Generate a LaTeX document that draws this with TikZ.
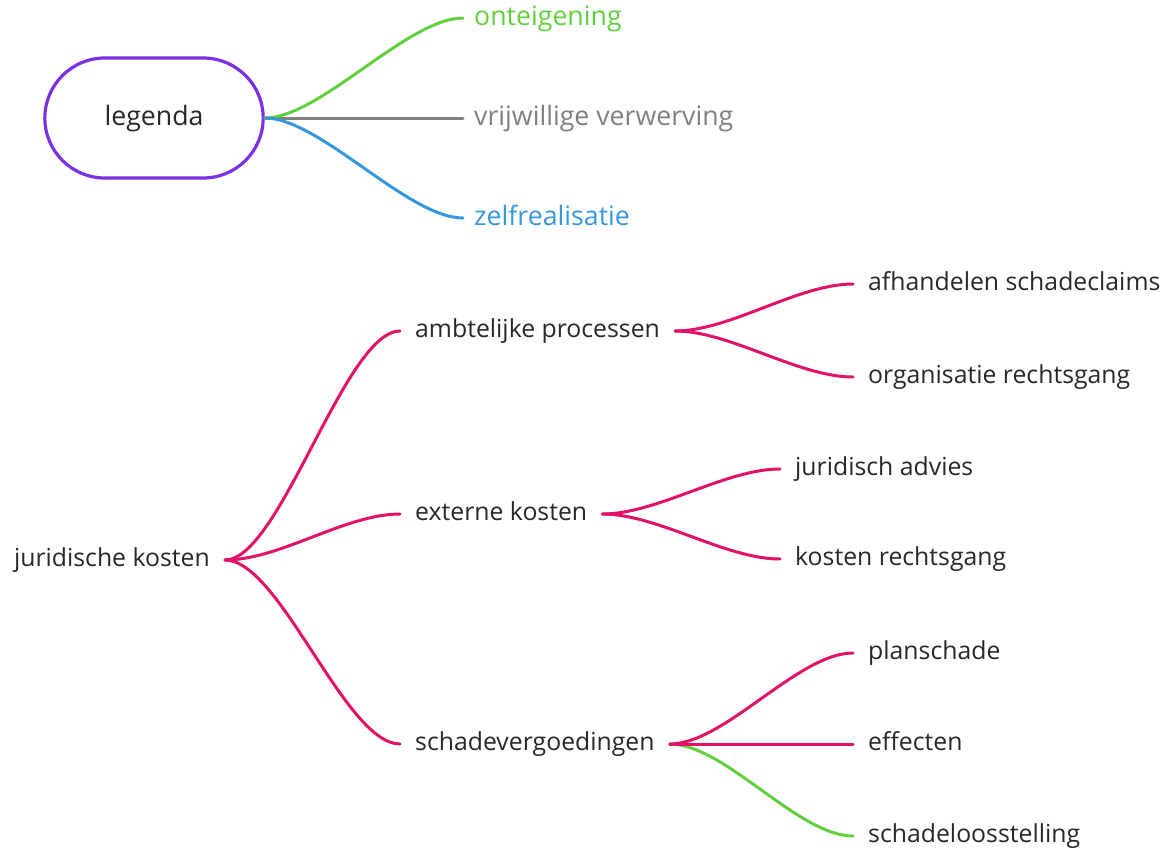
\documentclass[tikz,border=0pt]{standalone}
\usepackage{fontspec}
\setmainfont{Open Sans}
\usetikzlibrary{shapes.misc}
\definecolor{txt}{RGB}{40,40,40}
\definecolor{mpink}{RGB}{226,18,104}
\definecolor{mgreen}{RGB}{98,208,62}
\definecolor{mgray}{RGB}{128,128,128}
\definecolor{mblue}{RGB}{54,152,220}
\definecolor{mpurple}{RGB}{123,48,226}
\begin{document}
\begin{tikzpicture}[x=1pt,y=-1pt,
  every node/.style={font=\fontsize{24.8}{30}\selectfont, text=txt,
                     text height=17.2pt, text depth=4pt},
  big/.style={font=\fontsize{26.7}{32}\selectfont, text height=18.5pt, text depth=4.2pt},
  lbl/.style={anchor=west, inner xsep=15pt, inner ysep=0pt},
  wire/.style={line width=3pt, line cap=round, mpink},
  branch/.style={to path={.. controls +(55pt,0) and +(-55pt,0) .. (\tikztotarget)}}]
\useasboundingbox (0,0) rectangle (1162,852);

% legend
\node[rounded rectangle, big, draw=mpurple, line width=3.2pt,
      minimum width=225pt, minimum height=120pt] (leg) at (154,118) {legenda};
\node[lbl, big, inner xsep=11pt, text=mgreen] (on) at (463,18) {onteigening};
\node[lbl, big, inner xsep=11pt, text=mgray] (vv) at (463,118) {vrijwillige verwerving};
\node[lbl, big, inner xsep=11pt, text=mblue] (zr) at (463,218) {zelfrealisatie};
\draw[wire, mgray] (leg.east) -- (vv.west);
\draw[wire, mgreen] (leg.east) to[branch] (on.west);
\draw[wire, mblue] (leg.east) to[branch] (zr.west);

% main tree
\node[lbl, anchor=east] (jk) at (225,560) {juridische kosten};
\node[lbl] (ap) at (400,331) {ambtelijke processen};
\node[lbl] (ek) at (400,514) {externe kosten};
\node[lbl] (sv) at (400,744) {schadevergoedingen};
\node[lbl] (as) at (853,284) {afhandelen schadeclaims};
\node[lbl] (or) at (853,377) {organisatie rechtsgang};
\node[lbl] (ja) at (780,469) {juridisch advies};
\node[lbl] (kr) at (780,559) {kosten rechtsgang};
\node[lbl] (ps) at (853,653) {planschade};
\node[lbl] (ef) at (853,744) {effecten};
\node[lbl] (sl) at (853,836) {schadeloosstelling};

\draw[wire] (jk.east) to[branch] (ap.west);
\draw[wire] (jk.east) to[branch] (ek.west);
\draw[wire] (jk.east) to[branch] (sv.west);
\draw[wire] (ap.east) to[branch] (as.west);
\draw[wire] (ap.east) to[branch] (or.west);
\draw[wire] (ek.east) to[branch] (ja.west);
\draw[wire] (ek.east) to[branch] (kr.west);
\draw[wire, mgreen] (sv.east) to[branch] (sl.west);
\draw[wire] (sv.east) to[branch] (ps.west);
\draw[wire] (sv.east) -- (ef.west);
\end{tikzpicture}
\end{document}
